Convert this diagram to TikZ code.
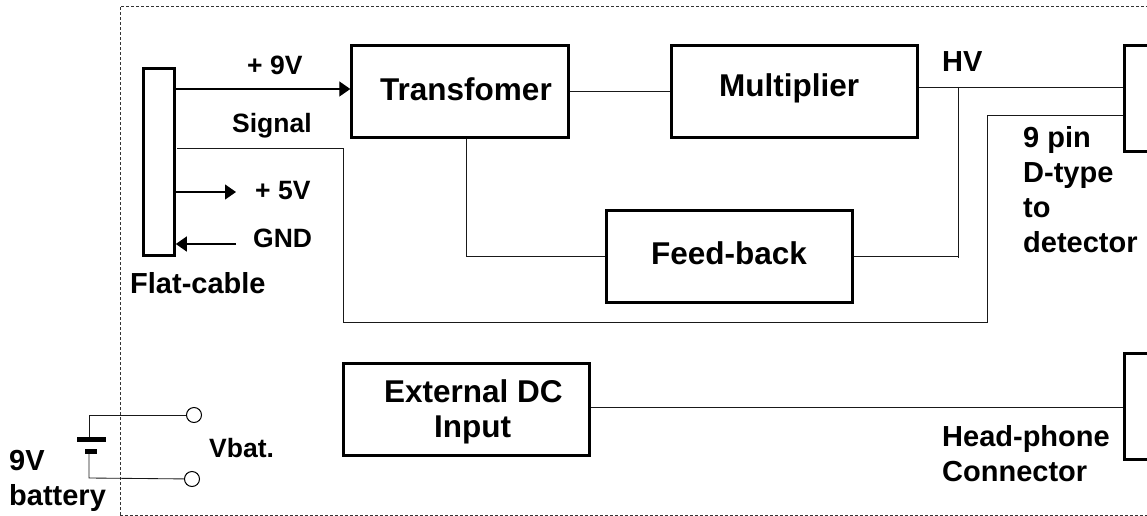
\documentclass[tikz,border=0pt]{standalone}
\usepackage{fontspec}
\setmainfont{Liberation Sans}
\usetikzlibrary{arrows.meta}
\tikzset{
 x=1pt,y=-1pt,
 block/.style={draw=black,line width=2.5pt,rectangle,inner sep=0pt,anchor=north west},
 wire/.style={draw=black!90,line width=0.85pt},
 arrowwire/.style={draw=black,line width=1.3pt,-{Triangle[length=11pt,width=15pt]}},
 term/.style={draw=black,line width=1pt,circle,fill=white,minimum size=15pt,inner sep=0pt},
 lblbig/.style={font=\fontsize{31.5}{35}\selectfont\bfseries,inner sep=0pt,anchor=base west},
 lblmid/.style={font=\fontsize{29}{35}\selectfont\bfseries,inner sep=0pt,anchor=base west},
 lblsmall/.style={font=\fontsize{26.5}{35}\selectfont\bfseries,inner sep=0pt,anchor=base west},
 encl/.style={draw=black!80,line width=0.8pt,densely dashed},
 plate/.style={draw=none,fill=black},
}
\begin{document}
\begin{tikzpicture}
\useasboundingbox (0,0) rectangle (1147,516);
\clip (0,0) rectangle (1147,516);
\draw[encl] (120,515) -- (120,6) -- (1160,6);
\draw[encl] (120,515) -- (1160,515);
% blocks
\node[block,minimum width=31pt,minimum height=187pt] (flat) at (142.3,67.3) {};
\node[block,minimum width=217pt,minimum height=92pt] (trans) at (350.3,44.3) {};
\node[block,minimum width=246pt,minimum height=92pt] (mult) at (670.3,44.3) {};
\node[block,minimum width=246pt,minimum height=92pt] (fb) at (605.3,209.3) {};
\node[block,minimum width=246pt,minimum height=92pt] (ext) at (342.3,362.3) {};
\node[block,minimum width=60pt,minimum height=106pt] (dtype) at (1123.3,44.3) {};
\node[block,minimum width=60pt,minimum height=106pt] (hp) at (1123.3,352.3) {};
% helper points
\coordinate (sigS) at (177,148);
\coordinate (sig1) at (343,148);
\coordinate (sig2) at (343,322);
\coordinate (sig3) at (987,322);
\coordinate (sig4) at (987,115);
\coordinate (sigE) at (dtype.west |- sig4);
\coordinate (tap) at (958,87);
\coordinate (hvS) at (mult.east |- tap);
\coordinate (hvE) at (dtype.west |- tap);
\coordinate (tapB) at (958,258);
\coordinate (tr2) at (466,256);
\coordinate (fbE) at (fb.east |- tr2);
\coordinate (fbT) at (tap |- tr2);
\coordinate (tr1) at (tr2 |- trans.south);
\coordinate (fbW) at (fb.west |- tr2);
\coordinate (v5E) at (236,192);
\coordinate (v5S) at (flat.east |- v5E);
\coordinate (gS) at (236,244);
\coordinate (gE) at (flat.east |- gS);
\coordinate (y9) at (0,89);
\coordinate (v9S) at (flat.east |- y9);
\coordinate (v9E) at (trans.west |- y9);
\coordinate (ytm) at (0,91);
\coordinate (tmR) at (trans.east |- ytm);
\coordinate (tmL) at (mult.west |- ytm);
\coordinate (yext) at (0,407);
\coordinate (extE) at (ext.east |- yext);
\coordinate (hpW) at (hp.west |- yext);
% connectors
\draw[arrowwire] (v9S) -- (v9E);
\draw[wire] (sigS) -- (sig1) -- (sig2) -- (sig3) -- (sig4) -- (sigE);
\draw[wire] (tmR) -- (tmL);
\draw[wire] (hvS) -- (hvE);
\draw[wire] (tap) -- (tapB);
\draw[wire] (fbE) -- (fbT);
\draw[wire] (tr1) -- (tr2) -- (fbW);
\draw[arrowwire] (v5S) -- (v5E);
\draw[arrowwire] (gS) -- (gE);
\draw[wire] (extE) -- (hpW);
% battery
\node[term] (tA) at (194,415) {};
\node[term] (tB) at (192,479) {};
\coordinate (bA) at (89,415);
\coordinate (bB) at (89,478);
\coordinate (pA) at (89,439);
\coordinate (pB) at (89,451);
\draw[wire] (tA) -- (bA) -- (pA);
\draw[wire] (tB) -- (bB) -- (pB);
\fill[plate] (77,436.5) rectangle (106,441.5);
\fill[plate] (85,448.5) rectangle (97,453.5);
% labels
\node[lblsmall] (l9v) at (247,75) {+ 9V};
\node[lblsmall] (lsig) at (232,132) {Signal};
\node[lblsmall] (l5v) at (255,199) {+ 5V};
\node[lblsmall] (lgnd) at (253,247) {GND};
\node[lblmid] (lflat) at (130,293) {Flat-cable};
\node[lblbig] (ltr) at (380,100) {Transfomer};
\node[lblbig] (lmu) at (719,96) {Multiplier};
\node[lblbig] (lfb) at (651,264) {Feed-back};
\node[lblbig] (lex1) at (384,402) {External DC};
\node[lblbig] (lex2) at (434,437) {Input};
\node[lblmid] (lhv) at (942,72) {HV};
\node[lblmid] (ld1) at (1023,147) {9 pin};
\node[lblmid] (ld2) at (1023,182) {D-type};
\node[lblmid] (ld3) at (1023,217) {to};
\node[lblmid] (ld4) at (1023,252) {detector};
\node[lblmid] (lh1) at (942,446) {Head-phone};
\node[lblmid] (lh2) at (942,481) {Connector};
\node[lblsmall] (lvb) at (209,457) {Vbat.};
\node[lblmid] (lb1) at (9,470) {9V};
\node[lblmid] (lb2) at (9,505) {battery};
\end{tikzpicture}
\end{document}
